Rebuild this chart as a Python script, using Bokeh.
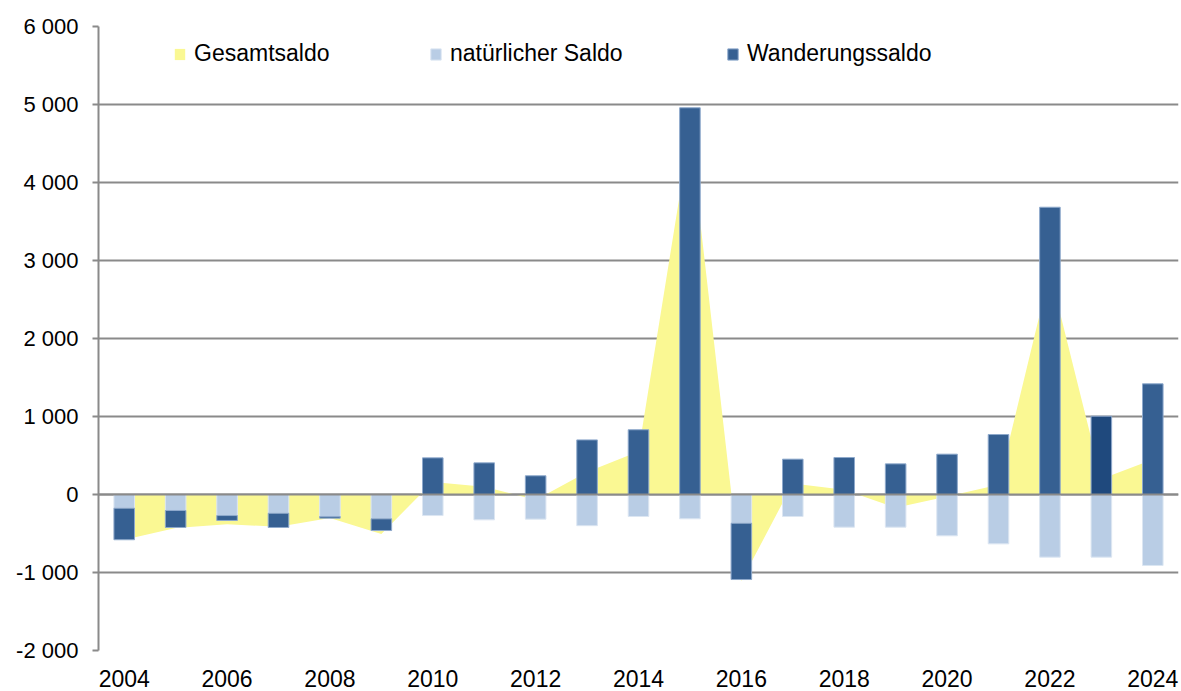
import numpy as np
from bokeh.plotting import figure
from bokeh.models import Range1d, FixedTicker, Legend, LegendItem, Span
from bokeh.embed import file_html
from bokeh.resources import INLINE

# ---- data ----
years = [2004, 2005, 2006, 2007, 2008, 2009, 2010, 2011, 2012, 2013, 2014,
         2015, 2016, 2017, 2018, 2019, 2020, 2021, 2022, 2023, 2024]
natuerlicher_saldo = [-175, -205, -270, -240, -282, -312, -270, -325, -316, -400, -282,
                      -312, -368, -282, -419, -419, -530, -633, -803, -803, -910]
wanderungssaldo = [-405, -218, -63, -183, -21, -150, 470, 406, 240, 700, 830,
                   4958, -722, 453, 474, 393, 517, 769, 3683, 1004, 1419]
gesamtsaldo = [-580, -430, -380, -415, -300, -505, 160, 100, -70, 290, 550,
               4650, -1110, 140, 60, -170, -27, 125, 2850, 200, 450]
wander_colors = ["#366092"] * 19 + ["#1F497D", "#366092"]

y_ticks = [-2000, -1000, 0, 1000, 2000, 3000, 4000, 5000, 6000]
y_tick_labels = ["-2 000", "-1 000", "0", "1 000", "2 000", "3 000", "4 000", "5 000", "6 000"]
x_ticks = [2004, 2006, 2008, 2010, 2012, 2014, 2016, 2018, 2020, 2022, 2024]
x_tick_labels = [str(v) for v in x_ticks]

# ---- stacking (Excel-like: negatives stack below negatives) ----
nat = np.array(natuerlicher_saldo, dtype=float)
mig = np.array(wanderungssaldo, dtype=float)
mig_bottom = np.where(mig < 0, np.minimum(nat, 0), 0.0)
mig_top = mig_bottom + mig

FONT = "Liberation Sans"
GRID = "#8a8a8a"

p = figure(frame_width=1080, frame_height=624,
           x_range=Range1d(2003.5, 2024.5), y_range=Range1d(-2000, 6000),
           output_backend="svg", toolbar_location=None,
           min_border_left=98, min_border_right=2, min_border_top=26, min_border_bottom=40)
p.outline_line_color = None
p.background_fill_color = "white"

# area
r_area = p.varea(x=years, y1=0, y2=gesamtsaldo, fill_color="#FAF893")

# bars
r_nat = p.vbar(x=years, bottom=0, top=natuerlicher_saldo, width=0.4,
               fill_color="#B9CDE5", line_color="#DCE6F2", line_width=1)
r_mig = p.vbar(x=years, bottom=mig_bottom, top=mig_top, width=0.4,
               fill_color=wander_colors, line_color="#8EA9CC", line_width=1)

# zero line over bars
p.add_layout(Span(location=0, dimension="width", line_color=GRID, line_width=2))

# axes
p.yaxis.ticker = FixedTicker(ticks=y_ticks)
p.yaxis.major_label_overrides = {t: l for t, l in zip(y_ticks, y_tick_labels)}
p.yaxis.major_label_text_font = FONT
p.yaxis.major_label_text_font_size = "22px"
p.yaxis.major_label_text_color = "black"
p.yaxis.axis_line_color = GRID
p.yaxis.axis_line_width = 2
p.yaxis.major_tick_line_color = GRID
p.yaxis.major_tick_line_width = 2
p.yaxis.major_tick_out = 6
p.yaxis.major_tick_in = 0
p.yaxis.minor_tick_line_color = None
p.yaxis.major_label_standoff = 14

p.xaxis.ticker = FixedTicker(ticks=x_ticks)
p.xaxis.major_label_overrides = {t: l for t, l in zip(x_ticks, x_tick_labels)}
p.xaxis.major_label_text_font = FONT
p.xaxis.major_label_text_font_size = "23px"
p.xaxis.major_label_text_color = "black"
p.xaxis.axis_line_color = None
p.xaxis.major_tick_line_color = None
p.xaxis.minor_tick_line_color = None
p.xaxis.major_label_standoff = 13

p.xgrid.grid_line_color = None
p.ygrid.ticker = FixedTicker(ticks=y_ticks)
p.ygrid.grid_line_color = GRID
p.ygrid.grid_line_width = 2

# legends (one per item, placed like the original)
def add_legend(label, renderer, x, y, index=None):
    item = LegendItem(label=label, renderers=[renderer]) if index is None else \
        LegendItem(label=label, renderers=[renderer], index=index)
    lg = Legend(items=[item], location=(x, y), orientation="horizontal",
                glyph_width=13, glyph_height=14, label_standoff=8,
                label_height=14, padding=0, margin=0, spacing=0,
                border_line_color=None, background_fill_alpha=0,
                label_text_font=FONT, label_text_font_size="23px",
                label_text_color="black")
    p.add_layout(lg, "center")

LEG_Y = 583
add_legend("Gesamtsaldo", r_area, 75, LEG_Y)
add_legend("natürlicher Saldo", r_nat, 331, LEG_Y, 0)
add_legend("Wanderungssaldo", r_mig, 628, LEG_Y, 0)

open("out.html", "w").write(file_html(p, INLINE))
